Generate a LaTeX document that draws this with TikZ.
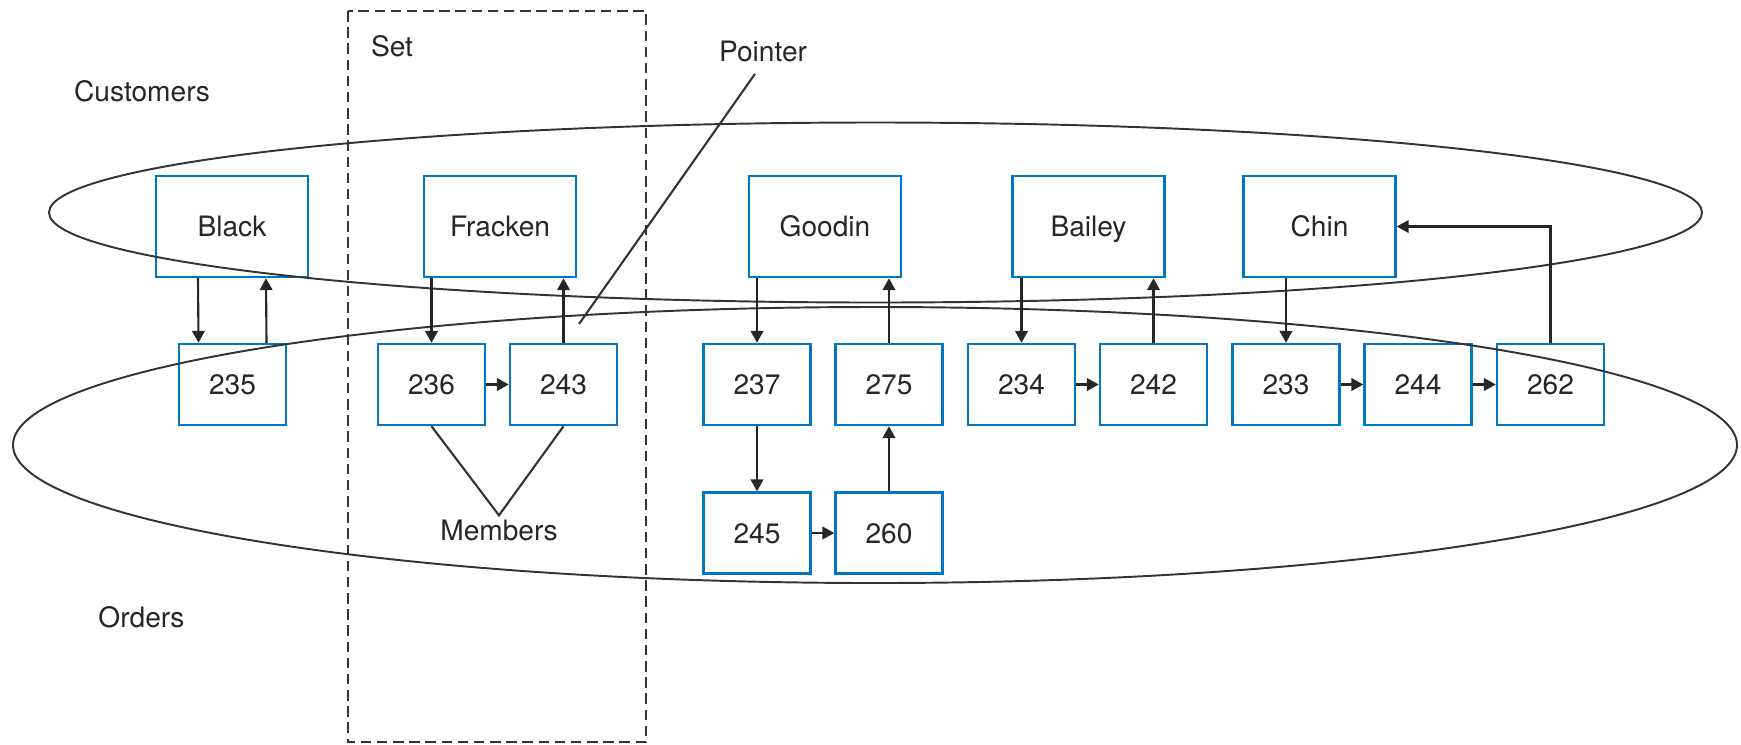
\documentclass[tikz,border=0pt]{standalone}
\usepackage{fontspec}
\setmainfont{TeX Gyre Heros}
\usepackage{tikz}
\usepackage{xcolor}
\usetikzlibrary{positioning}
\usetikzlibrary{arrows.meta}
\usetikzlibrary{calc}

\definecolor{boxblue}{RGB}{0,118,196}

\begin{document}
\begin{tikzpicture}[
    %% ── Node styles ─────────────────────────────────────────────
    cust/.style ={draw=boxblue, line width=0.7pt, minimum width=1.52cm,
                  minimum height=1.01cm, align=center, inner sep=0pt,
                  text height=5.8pt, text depth=0pt,
                  font=\fontsize{8}{9.6}\selectfont, text=black!85},
    ord/.style  ={draw=boxblue, line width=0.7pt, minimum width=1.07cm,
                  minimum height=0.81cm, align=center, inner sep=0pt,
                  text height=5.8pt, text depth=0pt,
                  font=\fontsize{8}{9.6}\selectfont, text=black!85},
    lbl/.style  ={draw=none, font=\fontsize{8}{9.6}\selectfont, text=black!85},
    arr/.style  ={-{Triangle[length=3.4pt, width=3.6pt]}, line width=0.6pt, color=black!85},
    ring/.style ={draw=black!80, line width=0.55pt},
    setbox/.style={draw=black!80, line width=0.6pt, dash pattern=on 3pt off 1.6pt}
]
    \useasboundingbox (0,0) rectangle (17.41,-7.44);

    %% ── Nodes ──────────────────────────────────────────────────
    \node[cust] (black)   at (2.32,  -2.265) {Black};
    \node[cust] (fracken) at (5.00,  -2.265) {Fracken};
    \node[cust] (goodin)  at (8.25,  -2.265) {Goodin};
    \node[cust] (bailey)  at (10.885,-2.265) {Bailey};
    \node[cust] (chin)    at (13.195,-2.265) {Chin};

    \node[ord]  (o235)    at (2.325, -3.845) {235};
    \node[ord]  (o236)    at (4.315, -3.845) {236};
    \node[ord]  (o243)    at (5.635, -3.845) {243};
    \node[ord]  (o237)    at (7.57,  -3.845) {237};
    \node[ord]  (o275)    at (8.89,  -3.845) {275};
    \node[ord]  (o234)    at (10.215,-3.845) {234};
    \node[ord]  (o242)    at (11.535,-3.845) {242};
    \node[ord]  (o233)    at (12.86, -3.845) {233};
    \node[ord]  (o244)    at (14.18, -3.845) {244};
    \node[ord]  (o262)    at (15.505,-3.845) {262};
    \node[ord]  (o245)    at (7.57,  -5.33 ) {245};
    \node[ord]  (o260)    at (8.89,  -5.33 ) {260};

    %% ── Labels ─────────────────────────────────────────────────
    \node[lbl] (customers) at (1.42, -0.91) {Customers};
    \node[lbl] (orders)    at (1.415,-6.17) {Orders};
    \node[lbl] (setlbl)    at (3.92, -0.46) {Set};
    \node[lbl] (pointer)   at (7.63, -0.51) {Pointer};
    \node[lbl, inner sep=1pt] (members) at (4.99, -5.30) {Members};
    \coordinate (ptip) at (5.79, -3.24);

    %% ── Sets (ellipses) and set box ─────────────────────────────
    \draw[ring] (8.755,-2.125) ellipse [x radius=8.265, y radius=0.90];
    \draw[ring] (8.75, -4.45)  ellipse [x radius=8.62,  y radius=1.38];
    \draw[setbox] (3.48,-0.11) rectangle (6.46,-7.42);

    %% ── Arrows ──────────────────────────────────────────────────
    \draw[arr] ([xshift=-3.4mm]black.south) -- ([xshift=-3.4mm]o235.north);
    \draw[arr] ([xshift=3.4mm]o235.north) -- ([xshift=3.4mm]black.south);
    \draw[arr] (fracken.south -| o236) -- (o236.north);
    \draw[arr] (o243.north) -- (o243 |- fracken.south);
    \draw[arr] (o236) -- (o243);
    \draw[arr] (goodin.south -| o237) -- (o237.north);
    \draw[arr] (o237) -- (o245);
    \draw[arr] (o245) -- (o260);
    \draw[arr] (o260) -- (o275);
    \draw[arr] (o275.north) -- (o275 |- goodin.south);
    \draw[arr] (bailey.south -| o234) -- (o234.north);
    \draw[arr] (o234) -- (o242);
    \draw[arr] (o242.north) -- (o242 |- bailey.south);
    \draw[arr] (chin.south -| o233) -- (o233.north);
    \draw[arr] (o233) -- (o244);
    \draw[arr] (o244) -- (o262);
    \draw[arr] (o262.north) |- (chin.east);

    %% ── Pointer and members lines ───────────────────────────────
    \draw[ring, line width=0.6pt] ([xshift=-0.8mm]pointer.south) -- (ptip);
    \draw[ring, line width=0.6pt] (o236.south) -- (members.north) -- (o243.south);

\end{tikzpicture}
\end{document}
